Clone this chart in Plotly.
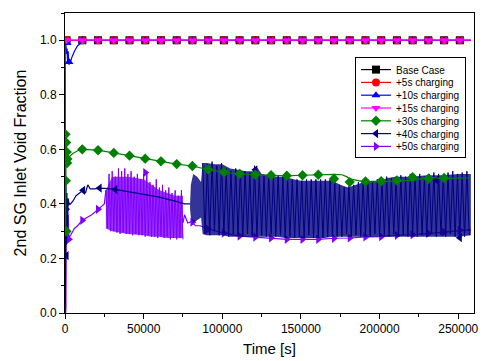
import plotly.graph_objects as go

# ---------------- data ----------------
mk_t = list(range(1000, 260000, 10000))          # marker grid (every 10000 s)
t_end = 258000

# flat 1.0 series
base_t = [0, t_end]
base_y = [1.0, 1.0]
p5_t = [0, t_end]
p5_y = [1.0, 1.0]
p15_t = [0, t_end]
p15_y = [1.0, 1.0]
flat_mk_y = [1.0] * len(mk_t)

# +10s
p10_t = [0, 500, 1000, 1300, 1600, 2000, 2500, 3000, 3500, 4500, 6000, 8000, 10000, 11500, t_end]
p10_y = [1.0, 0.99, 0.95, 0.97, 0.92, 0.96, 0.91, 0.93, 0.92, 0.94, 0.96, 0.98, 0.99, 1.0, 1.0]
p10_mk_t = [1300, 2500] + mk_t[1:]
p10_mk_y = [0.99, 0.92] + [1.0] * (len(mk_t) - 1)

# +30s (green)
p30_t = [0, 150, 300, 450, 600, 750, 900, 1100, 1300, 1600, 2000, 3000, 5000, 8000,
         11000, 21000, 31000, 41000, 51000, 61000, 71000, 81000, 91000, 101000, 111000,
         121000, 131000, 141000, 151000, 161000, 171000, 176000, 179000, 181000, 191000,
         201000, 211000, 221000, 231000, 241000, 251000, t_end]
p30_y = [0.74, 0.48, 0.66, 0.30, 0.63, 0.55, 0.65, 0.57, 0.59, 0.55, 0.57, 0.575, 0.585, 0.595,
         0.600, 0.597, 0.587, 0.577, 0.566, 0.556, 0.546, 0.539, 0.526, 0.516, 0.510,
         0.507, 0.505, 0.503, 0.505, 0.507, 0.508, 0.507, 0.50, 0.492, 0.480,
         0.482, 0.483, 0.486, 0.498, 0.492, 0.495, 0.495]
p30_mk_t = [300, 500, 700, 900, 1100, 1300, 1500] + mk_t[1:]
p30_mk_y = [0.655, 0.485, 0.625, 0.30, 0.59, 0.55, 0.565] + p30_y[14:14 + 16] + \
           [0.492, 0.480, 0.482, 0.483, 0.486, 0.498, 0.492, 0.495]

# +40s (navy) smooth part
p40_t = [0, 200, 400, 600, 900, 1200, 1600, 2000, 2500, 3500, 5000, 7000, 9000, 11500, 13000,
         14500, 16000, 19000, 22000, 30000, 40000, 50000, 60000, 70000, 76000, 79500]
p40_y = [0.0, 0.03, 0.21, 0.47, 0.25, 0.44, 0.30, 0.42, 0.40, 0.40, 0.41, 0.43, 0.44, 0.45, 0.44,
         0.47, 0.455, 0.455, 0.458, 0.455, 0.445, 0.435, 0.425, 0.41, 0.40, 0.40]
# +40s oscillating part: envelope and cycle peaks/troughs
p40_env_t = [79500, 80000, 81500, 84000, 86500, 87500, 90000, 95000, 100000, 105000, 110000,
             115000, 120000, 122000, 125000, 130000, 135000, 140000, 145000, 150000, 155000,
             160000, 165000, 170000, 175000, 180000, 185000, 190000, 195000, 200000, 205000,
             210000, 220000, 230000, 240000, 250000, t_end]
p40_env_hi = [0.40, 0.47, 0.51, 0.50, 0.48, 0.55, 0.55, 0.545, 0.545, 0.53, 0.525, 0.52, 0.52,
              0.535, 0.51, 0.505, 0.50, 0.50, 0.49, 0.485, 0.485, 0.485, 0.485, 0.485, 0.47,
              0.46, 0.47, 0.48, 0.485, 0.485, 0.495, 0.50, 0.50, 0.505, 0.505, 0.51, 0.51]
p40_env_lo = [0.38, 0.35, 0.33, 0.34, 0.35, 0.29, 0.285, 0.285, 0.285, 0.28, 0.28, 0.28, 0.28,
              0.28, 0.28, 0.28, 0.28, 0.275, 0.275, 0.275, 0.275, 0.275, 0.275, 0.28, 0.28,
              0.28, 0.28, 0.28, 0.28, 0.28, 0.28, 0.28, 0.28, 0.28, 0.28, 0.28, 0.285]
p40_peak_t = list(range(87500, 256000, 3000))
p40_peaks = [0.55, 0.545, 0.555, 0.54, 0.55,
             0.53, 0.52, 0.53, 0.525, 0.52, 0.515,
             0.54,
             0.51, 0.505, 0.51, 0.50, 0.505, 0.50, 0.495,
             0.49, 0.49, 0.485, 0.49, 0.49,
             0.49, 0.49, 0.49, 0.49, 0.485,
             0.47, 0.46, 0.465, 0.47,
             0.48, 0.485, 0.49, 0.48, 0.49, 0.49,
             0.50, 0.495, 0.50, 0.505, 0.50, 0.51, 0.505, 0.51, 0.50, 0.51, 0.515, 0.51,
             0.505, 0.515, 0.52, 0.51, 0.515, 0.52]
p40_troughs = [0.29, 0.285, 0.30, 0.285, 0.29,
               0.28, 0.29, 0.285, 0.28, 0.29, 0.28,
               0.28,
               0.285, 0.28, 0.29, 0.28, 0.285, 0.275, 0.28,
               0.275, 0.28, 0.275, 0.285, 0.275,
               0.28, 0.275, 0.28, 0.285, 0.28,
               0.28, 0.29, 0.28, 0.285,
               0.28, 0.285, 0.28, 0.29, 0.28, 0.285,
               0.28, 0.29, 0.28, 0.285, 0.28, 0.29, 0.28, 0.285, 0.28, 0.29, 0.28, 0.285,
               0.28, 0.29, 0.28, 0.285, 0.28, 0.285]
p40_mk_t = [1000, 11500, 22000, 32000, 121000, 236000, 251000]
p40_mk_y = [0.21, 0.45, 0.458, 0.452, 0.525, 0.487, 0.276]

# +50s (purple)
p50_pre_t = [0, 200, 400, 600, 800, 1000, 1300, 1600, 2000, 2500, 3000, 4000, 6000, 8000,
             11000, 14000, 17000, 21000, 23000, 25000, 26000]
p50_pre_y = [0.0, 1.0, 0.0, 0.02, 0.38, 0.30, 0.40, 0.26, 0.36, 0.27, 0.28, 0.29, 0.31, 0.32,
             0.34, 0.35, 0.36, 0.38, 0.39, 0.40, 0.45]
p50_peak_t = list(range(26000, 75000, 2000))
p50_peaks = [0.45, 0.51, 0.52, 0.50, 0.53, 0.52, 0.53, 0.51, 0.52, 0.50, 0.51, 0.49, 0.51,
             0.515, 0.48, 0.47, 0.49, 0.46, 0.47, 0.45, 0.46, 0.44, 0.45, 0.43, 0.45]
p50_troughs = [0.31, 0.30, 0.30, 0.295, 0.29, 0.295, 0.29, 0.29, 0.285, 0.29, 0.285, 0.285,
               0.28, 0.285, 0.28, 0.28, 0.275, 0.28, 0.275, 0.28, 0.27, 0.275, 0.27, 0.275, 0.27]
p50_env_t = [26000, 30000, 40000, 50000, 55000, 60000, 65000, 70000, 75000]
p50_env_hi = [0.45, 0.50, 0.50, 0.49, 0.47, 0.45, 0.44, 0.43, 0.43]
p50_env_lo = [0.31, 0.30, 0.29, 0.285, 0.28, 0.28, 0.275, 0.275, 0.275]
p50_post_t = [75000, 76000, 78000, 80000, 83000, 86000, 91000, 101000, 111000, 121000, 131000,
              141000, 151000, 161000, 171000, 181000, 191000, 201000, 211000, 221000, 231000,
              241000, 251000, t_end]
p50_post_y = [0.33, 0.36, 0.33, 0.335, 0.32, 0.32, 0.308, 0.293, 0.282, 0.278, 0.275,
              0.27, 0.27, 0.27, 0.274, 0.275, 0.279, 0.28, 0.285, 0.287, 0.292,
              0.297, 0.304, 0.305]
p50_mk_t = [800, 1300, 2500, 11000, 21000, 51000, 81000] + p50_post_t[6:23]
p50_mk_y = [0.38, 0.40, 0.27, 0.34, 0.38, 0.515, 0.333] + p50_post_y[6:23]

names = ["Base Case", "+5s charging", "+10s charging", "+15s charging",
         "+30s charging", "+40s charging", "+50s charging"]
colors = ["#000000", "#FF0000", "#0000FF", "#FF00FF", "#008000", "#000080", "#8000FF"]
symbols = ["square", "circle", "triangle-up", "triangle-down", "diamond",
           "triangle-left", "triangle-right"]


def zig(tp, peaks, troughs, half):
    xs, ys = [], []
    for t, p, q in zip(tp, peaks, troughs):
        xs += [t, t + half]
        ys += [p, q]
    return xs, ys


fig = go.Figure()
MS = 8


def line(x, y, c, w=1.2):
    fig.add_trace(go.Scatter(x=x, y=y, mode="lines", line=dict(color=c, width=w),
                             showlegend=False, hoverinfo="skip"))


def marks(x, y, i):
    fig.add_trace(go.Scatter(x=x, y=y, mode="markers",
                             marker=dict(symbol=symbols[i], color=colors[i], size=MS),
                             showlegend=False, hoverinfo="skip"))


def band(t, hi, lo, c):
    fig.add_trace(go.Scatter(x=t + t[::-1], y=hi + lo[::-1], mode="lines", fill="toself",
                             fillcolor=c, line=dict(width=0), showlegend=False,
                             hoverinfo="skip"))


# +50s purple
line(p50_pre_t, p50_pre_y, colors[6])
band(p50_env_t, p50_env_hi, p50_env_lo, "rgba(128,0,255,0.8)")
zx, zy = zig(p50_peak_t, p50_peaks, p50_troughs, 1000)
line(zx, zy, colors[6], 1.0)
line(p50_post_t, p50_post_y, colors[6])
marks(p50_mk_t, p50_mk_y, 6)

# +40s navy
line(p40_t, p40_y, colors[5])
band(p40_env_t, p40_env_hi, p40_env_lo, "rgba(0,0,128,0.8)")
zx, zy = zig(p40_peak_t, p40_peaks, p40_troughs, 1500)
line(zx, zy, colors[5], 1.0)
marks(p40_mk_t, p40_mk_y, 5)

# +30s green
line(p30_t, p30_y, colors[4])
marks(p30_mk_t, p30_mk_y, 4)

# flat series
line(base_t, base_y, colors[0]); marks(mk_t, flat_mk_y, 0)
line(p5_t, p5_y, colors[1]); marks(mk_t, flat_mk_y, 1)
line(p10_t, p10_y, colors[2]); marks(p10_mk_t, p10_mk_y, 2)
line(p15_t, p15_y, colors[3]); marks(mk_t, flat_mk_y, 3)

# legend entries
for i, n in enumerate(names):
    fig.add_trace(go.Scatter(x=[None], y=[None], mode="lines+markers", name=n,
                             line=dict(color=colors[i], width=1.2),
                             marker=dict(symbol=symbols[i], color=colors[i], size=MS)))

axis_common = dict(showline=True, linecolor="black", linewidth=1, mirror=True,
                   ticks="outside", ticklen=5, tickcolor="black", showgrid=False,
                   zeroline=False, automargin=False,
                   tickfont=dict(family="Arial, Liberation Sans", size=12, color="black"))
fig.update_layout(
    width=483, height=361,
    margin=dict(l=65, r=9, t=13, b=48),
    paper_bgcolor="white", plot_bgcolor="white",
    font=dict(family="Arial, Liberation Sans", color="black"),
    xaxis=dict(range=[0, 260000], dtick=50000, tickformat="d",
               minor=dict(dtick=25000, ticks="outside", ticklen=3, tickcolor="black"),
               title=dict(text="Time [s]", font=dict(size=15), standoff=8),
               **axis_common),
    yaxis=dict(range=[0, 1.1], dtick=0.2, tickformat=".1f",
               minor=dict(dtick=0.1, ticks="outside", ticklen=3, tickcolor="black"),
               title=dict(text="2nd SG Inlet Void Fraction", font=dict(size=16), standoff=9),
               **axis_common),
    legend=dict(x=0.709, y=0.853, xanchor="left", yanchor="top", bgcolor="white",
                bordercolor="black", borderwidth=1, font=dict(size=10),
                tracegroupgap=0, itemwidth=30),
)

post = """
document.body.style.margin = '0';
document.body.style.overflow = 'hidden';
var gd = document.getElementById('{plot_id}');
var traces = gd.querySelectorAll('g.legend g.traces');
if (traces.length) {
  var step = 12.8;
  var ys = [];
  traces.forEach(function(t){
    var m = /translate\\(([-\\d.e]+)[ ,]+([-\\d.e]+)\\)/.exec(t.getAttribute('transform'));
    ys.push([parseFloat(m[1]), parseFloat(m[2])]);
  });
  var n = ys.length;
  var y0 = ys[0][1] - 3;
  traces.forEach(function(t, i){
    t.setAttribute('transform', 'translate(' + ys[i][0] + ',' + (y0 + i * step) + ')');
  });
  var bg = gd.querySelector('g.legend rect.bg');
  var h = parseFloat(bg.getAttribute('height'));
  var pad = h - ys[n - 1][1];
  bg.setAttribute('height', (y0 + (n - 1) * step + pad - 4));
}
"""

fig.write_html("out.html", post_script=post, config={"displayModeBar": False})
